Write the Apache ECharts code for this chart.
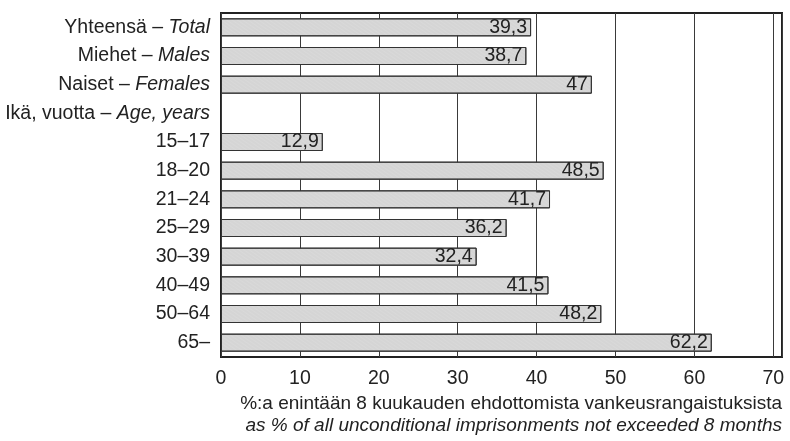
<!DOCTYPE html>
<html>
<head>
<meta charset="utf-8">
<script src="https://cdn.jsdelivr.net/npm/echarts@6/dist/echarts.min.js"></script>
<style>
  html, body { margin: 0; padding: 0; background: #fff; }
  #chart { width: 790px; height: 441px; }
</style>
</head>
<body>
<div id="chart"></div>
<script>
// rivit ylhäältä alas: suomi + englanti (kursiivi)
var labelsFi = ['Yhteensä – ', 'Miehet – ', 'Naiset – ', 'Ikä, vuotta – ', '15–17', '18–20', '21–24', '25–29', '30–39', '40–49', '50–64', '65–'];
var labelsEn = ['Total', 'Males', 'Females', 'Age, years', '', '', '', '', '', '', '', ''];
var values = [39.3, 38.7, 47, null, 12.9, 48.5, 41.7, 36.2, 32.4, 41.5, 48.2, 62.2];
var xTicks = [0, 10, 20, 30, 40, 50, 60, 70];

var FONT = '"Liberation Sans Narrow", "Arial Narrow", "Liberation Sans", Arial, sans-serif';
var FS = 19.5;

var categories = labelsFi.map(function (f, i) { return f + '|' + labelsEn[i]; });

var chart = echarts.init(document.getElementById('chart'));

var option = {
  animation: false,
  textStyle: { fontFamily: FONT },
  grid: {
    left: 221, right: 8, top: 13, bottom: 84,
    show: true, borderColor: '#222', borderWidth: 2, backgroundColor: 'transparent'
  },
  xAxis: {
    type: 'value',
    min: 0, max: 71.1, interval: 10,
    axisLine: { show: false },
    axisTick: { show: false },
    splitLine: { show: true, lineStyle: { color: '#3a3a3a', width: 1 } },
    axisLabel: {
      fontFamily: FONT, fontSize: FS, color: '#222', margin: 12,
      showMaxLabel: false,
      formatter: function (v) { return xTicks.indexOf(v) >= 0 ? String(v) : ''; }
    }
  },
  yAxis: {
    type: 'category',
    inverse: true,
    data: categories,
    axisLine: { show: false },
    axisTick: { show: false },
    axisLabel: {
      margin: 11,
      formatter: function (v) {
        var p = v.split('|');
        return p[1] ? '{n|' + p[0] + '}{i|' + p[1] + '}' : '{n|' + p[0] + '}';
      },
      rich: {
        n: { fontFamily: FONT, fontSize: FS, color: '#222' },
        i: { fontFamily: FONT, fontSize: FS, color: '#222', fontStyle: 'italic' }
      }
    }
  },
  series: [{
    type: 'bar',
    data: values,
    barWidth: 18,
    itemStyle: {
      color: '#d9d9d9',
      borderColor: '#333',
      borderWidth: 1,
      decal: {
        symbol: 'rect', symbolSize: 0.5, dashArrayX: [1, 0], dashArrayY: [2, 1],
        color: 'rgba(120,120,120,0.18)', rotation: 0.6
      }
    },
    label: {
      show: true,
      position: 'insideRight',
      distance: 4,
      fontFamily: FONT, fontSize: FS, color: '#222',
      formatter: function (p) { return String(p.value).replace('.', ','); }
    }
  }],
  graphic: [{
    type: 'text', right: 8, top: 394,
    style: { text: '%:a enintään 8 kuukauden ehdottomista vankeusrangaistuksista', font: '19px ' + FONT, fill: '#222' }
  }, {
    type: 'text', right: 8, top: 416,
    style: { text: 'as % of all unconditional imprisonments not exceeded 8 months', font: 'italic 19px ' + FONT, fill: '#222' }
  }]
};

chart.setOption(option);
</script>
</body>
</html>
